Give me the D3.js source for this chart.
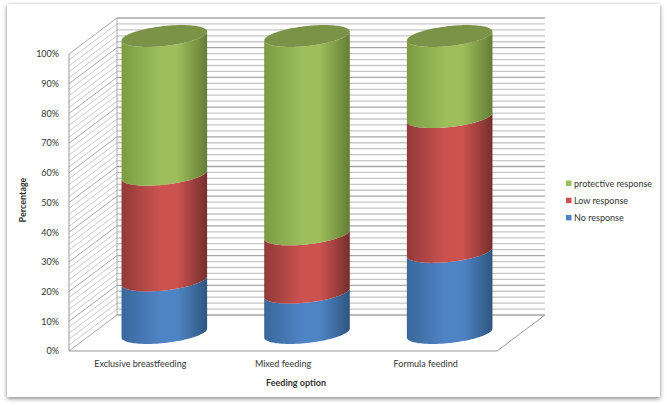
<!DOCTYPE html>
<html>
<head>
<meta charset="utf-8">
<script src="https://cdn.jsdelivr.net/npm/d3@7"></script>
<style>
  html, body { margin: 0; padding: 0; background: #fff; }
  svg { display: block; }
  text { font-family: Lato, "Open Sans", sans-serif; fill: #333; }
  .axis path, .axis line { display: none; }
  .axis text { font-size: 9px; font-family: Lato, sans-serif; fill: #333; }
</style>
</head>
<body>
<svg id="chart" width="667" height="405"></svg>
<script>
const categories = ["Exclusive breastfeeding", "Mixed feeding", "Formula feedind"]
const seriesNames = ["No response", "Low response", "protective response"]
const noResponse = [17.7, 13.6, 27.3]
const lowResponse = [35.6, 19.6, 45.4]
const protectiveResponse = [46.7, 66.8, 27.3]
const yTicks = [0, 10, 20, 30, 40, 50, 60, 70, 80, 90, 100]
const gridValues = d3.range(0, 101, 2)
const seriesValues = [noResponse, lowResponse, protectiveResponse]

const colors = [
    {id: "blue", edge: "#3a679b", mid: "#4f84c4", dark: "#2f5680", top: "#3e6594"},
    {id: "red", edge: "#923a38", mid: "#cc5250", dark: "#752f2d", top: "#9c3f3d"},
    {id: "green", edge: "#7c9c44", mid: "#9dbe5b", dark: "#647e36", top: "#7a9346"}
]

const svg = d3.select("#chart")
const defs = svg.append("defs")

// card with soft shadow
const shadow = defs.append("filter").attr("id", "cardShadow")
    .attr("x", "-5%").attr("y", "-5%").attr("width", "110%").attr("height", "110%")
shadow.append("feDropShadow").attr("dx", 0).attr("dy", 1.5).attr("stdDeviation", 2)
    .attr("flood-color", "#000").attr("flood-opacity", 0.5)
svg.append("rect").attr("x", 7).attr("y", 4).attr("width", 653).attr("height", 393)
    .attr("fill", "#fff").attr("filter", "url(#cardShadow)")

// front plane scales, the walls are shifted back by depth
const depthX = 48, depthY = 36
const xRange = d3.scaleBand().domain(categories).range([69, 497])
const yRange = d3.scaleLinear().domain([0, 100]).range([351, 54])
const floorRight = xRange.range()[1]

const walls = svg.append("g").attr("fill", "none")

walls.selectAll(".side")
    .data(gridValues)
    .enter()
    .append("line")
        .attr("x1", 69)
        .attr("y1", d => yRange(d))
        .attr("x2", 69 + depthX)
        .attr("y2", d => yRange(d) - depthY)
        .attr("stroke", d => d % 10 == 0 ? "#a0a0a0" : "#c4c4c4")
        .attr("stroke-width", 0.9)

walls.selectAll(".back")
    .data(gridValues)
    .enter()
    .append("line")
        .attr("x1", 69 + depthX)
        .attr("y1", d => yRange(d) - depthY)
        .attr("x2", floorRight + depthX)
        .attr("y2", d => yRange(d) - depthY)
        .attr("stroke", d => d % 10 == 0 ? "#a6a6a6" : "#c6c6c6")
        .attr("stroke-width", 1.3)

// frame edges
const edge = d3.line()
walls.append("path")
    .attr("d", edge([[69, yRange(100)], [69, yRange(0)], [floorRight, yRange(0)],
        [floorRight + depthX, yRange(0) - depthY]]))
    .attr("stroke", "#999")
    .attr("stroke-width", 1)
walls.append("path")
    .attr("d", edge([[69 + depthX, yRange(100) - depthY], [69 + depthX, yRange(0) - depthY]]))
    .attr("stroke", "#aaa")
    .attr("stroke-width", 1)

// cylinders
colors.forEach(c => {
    const g = defs.append("linearGradient").attr("id", "grad_" + c.id)
    g.append("stop").attr("offset", "0%").attr("stop-color", c.edge)
    g.append("stop").attr("offset", "45%").attr("stop-color", c.mid)
    g.append("stop").attr("offset", "65%").attr("stop-color", c.mid)
    g.append("stop").attr("offset", "100%").attr("stop-color", c.dark)
})

const radiusX = xRange.bandwidth() * 0.3
const radiusY = 10
const skew = 4.5
const angles = d3.range(0, 1.0001, 0.02).map(t => Math.PI * t)

// front half of the tilted ellipse, left to right
function frontArc(cx, cy){
    return angles.map(t => [
        cx - radiusX * Math.cos(t),
        cy + radiusY * Math.sin(t) + skew * Math.cos(t)
    ])
}

function segmentPath(cx, y0, y1){
    const lower = frontArc(cx, y0)
    const upper = frontArc(cx, y1).reverse()
    return d3.line()(lower.concat(upper)) + "Z"
}

function topPath(cx, cy){
    const front = frontArc(cx, cy)
    const back = front.map(p => [2 * cx - p[0], 2 * cy - p[1]])
    return d3.line()(front.concat(back)) + "Z"
}

const columns = svg.append("g")
categories.forEach((cat, i) => {
    const cx = xRange(cat) + xRange.bandwidth() / 2 + depthX / 2
    let sum = 0
    seriesValues.forEach((vals, s) => {
        const y0 = yRange(sum) - depthY / 2
        sum += vals[i]
        const y1 = yRange(sum) - depthY / 2
        columns.append("path")
            .attr("d", segmentPath(cx, y0, y1))
            .attr("fill", "url(#grad_" + colors[s].id + ")")
    })
    columns.append("path")
        .attr("d", topPath(cx, yRange(sum) - depthY / 2))
        .attr("fill", colors[2].top)
})

// axes
svg.append("g")
    .attr("class", "axis")
    .attr("transform", "translate(69, 0)")
    .call(d3.axisLeft(yRange).tickValues(yTicks).tickFormat(d => d + "%").tickSize(0).tickPadding(10))

svg.append("g")
    .attr("class", "axis")
    .attr("transform", "translate(0, 351)")
    .call(d3.axisBottom(xRange).tickSize(0).tickPadding(10))

svg.append("text")
    .attr("transform", "translate(26, 200) rotate(-90)")
    .attr("text-anchor", "middle")
    .attr("font-size", 9)
    .attr("font-weight", 700)
    .text("Percentage")

svg.append("text")
    .attr("x", 296)
    .attr("y", 386)
    .attr("text-anchor", "middle")
    .attr("font-size", 9)
    .attr("font-weight", 700)
    .text("Feeding option")

// legend, top entry is the last series
const legend = svg.append("g")
const legendRows = seriesNames.map((name, i) => ({name: name, color: colors[i].mid, row: 2 - i}))
legend.selectAll("rect")
    .data(legendRows)
    .enter()
    .append("rect")
        .attr("x", 566)
        .attr("y", d => 180.5 + d.row * 17.2)
        .attr("width", 5.5)
        .attr("height", 5.5)
        .attr("fill", d => d.color)
legend.selectAll("text")
    .data(legendRows)
    .enter()
    .append("text")
        .attr("x", 574)
        .attr("y", d => 186.5 + d.row * 17.2)
        .attr("font-size", 9)
        .text(d => d.name)
</script>
</body>
</html>
